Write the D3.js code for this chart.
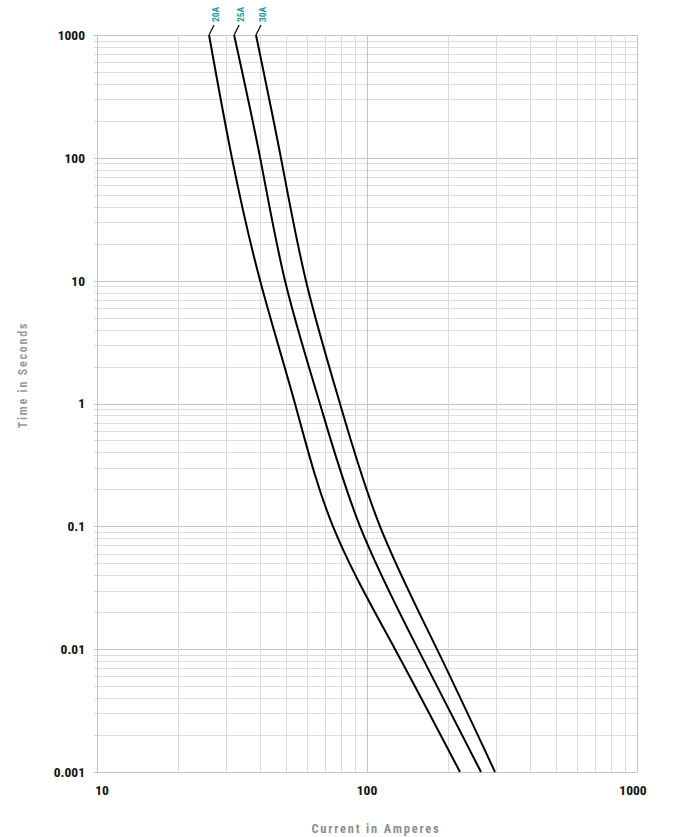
<!DOCTYPE html>
<html>
<head>
<meta charset="utf-8">
<script src="https://cdn.jsdelivr.net/npm/d3@7"></script>
<style>
  html, body { margin: 0; padding: 0; background: #fff; }
  svg { display: block; }
  .lbl { font-family: "Liberation Sans Narrow", "Roboto Condensed", "DejaVu Sans Condensed", Roboto, "Liberation Sans", sans-serif; font-weight: bold; }
</style>
</head>
<body>
<svg id="chart" width="673" height="837"></svg>
<script>
// ---- data ----
const timeValues = [1000, 100, 10, 1, 0.1, 0.01, 0.001];           // seconds
const current20A = [26.0, 31.6, 40.2, 54.1, 74.8, 127.0, 221.0];   // amperes
const current25A = [32.2, 40.2, 49.7, 66.9, 94.2, 154.5, 264.4];
const current30A = [38.8, 48.0, 59.4, 79.4, 111.7, 181.6, 297.9];
const seriesNames = ["20A", "25A", "30A"];
const xTickValues = [10, 100, 1000];
const xTickLabels = ["10", "100", "1000"];
const yTickValues = [1000, 100, 10, 1, 0.1, 0.01, 0.001];
const yTickLabels = ["1000", "100", "10", "1", "0.1", "0.01", "0.001"];
const xTitle = "Current in Amperes";
const yTitle = "Time in Seconds";

const svg = d3.select("#chart");
const x = d3.scaleLog().domain([10, 1000]).range([97, 637]);
const y = d3.scaleLog().domain([0.001, 1000]).range([772, 35]);

// grid values
const xGrid = [];
[10, 100].forEach(d => { for (let k = 1; k <= 9; k++) xGrid.push(d * k); });
xGrid.push(1000);
const yGrid = [];
[0.001, 0.01, 0.1, 1, 10, 100].forEach(d => { for (let k = 1; k <= 9; k++) yGrid.push(+(d * k).toPrecision(6)); });
yGrid.push(1000);

const g = svg.append("g");
g.selectAll("line.hg").data(yGrid).join("line")
  .attr("x1", x(10) - 3).attr("x2", x(1000))
  .attr("y1", d => Math.round(y(d)) + 0.5).attr("y2", d => Math.round(y(d)) + 0.5)
  .attr("stroke", d => yTickValues.includes(d) ? "#c4c4c4" : "#dcdcdc").attr("stroke-width", 1);
g.selectAll("line.vg").data(xGrid).join("line")
  .attr("y1", y(1000)).attr("y2", y(0.001))
  .attr("x1", d => Math.round(x(d)) + 0.5).attr("x2", d => Math.round(x(d)) + 0.5)
  .attr("stroke", d => xTickValues.includes(d) ? "#c4c4c4" : "#dcdcdc").attr("stroke-width", 1);

// axis labels
svg.selectAll("text.yl").data(yTickValues).join("text")
  .attr("class", "lbl")
  .attr("x", 85).attr("y", d => y(d)).attr("dy", "0.36em")
  .attr("text-anchor", "end").attr("font-size", 13.5).attr("fill", "#111")
  .text((d, i) => yTickLabels[i]);
svg.selectAll("text.xl").data(xTickValues).join("text")
  .attr("class", "lbl")
  .attr("x", (d, i) => x(d) + (i === 0 ? 5 : (i === 2 ? -4 : 0))).attr("y", 795)
  .attr("text-anchor", "middle").attr("font-size", 13.5).attr("fill", "#111")
  .text((d, i) => xTickLabels[i]);

svg.append("text").attr("class", "lbl")
  .attr("x", 376).attr("y", 833).attr("text-anchor", "middle")
  .attr("font-size", 12.5).attr("letter-spacing", 1.8).attr("fill", "#8f8f8f")
  .text(xTitle);
svg.append("text").attr("class", "lbl")
  .attr("transform", "translate(27,375) rotate(-90)").attr("text-anchor", "middle")
  .attr("font-size", 12).attr("letter-spacing", 1.8).attr("fill", "#9a9a9a")
  .text(yTitle);

// curves
const series = [current20A, current25A, current30A];
const line = d3.line().x(d => x(d[0])).y(d => y(d[1])).curve(d3.curveNatural);
series.forEach((vals, si) => {
  const pts = vals.map((c, i) => [c, timeValues[i]]);
  svg.append("path").attr("d", line(pts)).attr("fill", "none")
    .attr("stroke", "#000").attr("stroke-width", 2);
  const x0 = x(vals[0]), y0 = y(timeValues[0]);
  svg.append("path").attr("d", `M${x0},${y0}L${x0 + 5},${y0 - 10}`)
    .attr("stroke", "#000").attr("stroke-width", 1.2).attr("fill", "none");
  svg.append("text").attr("class", "lbl")
    .attr("transform", `translate(${x0 + 10},${y0 - 13}) rotate(-90)`)
    .attr("text-anchor", "start").attr("font-size", 9.5).attr("fill", "#1a9c9c")
    .text(seriesNames[si]);
});
</script>
</body>
</html>
